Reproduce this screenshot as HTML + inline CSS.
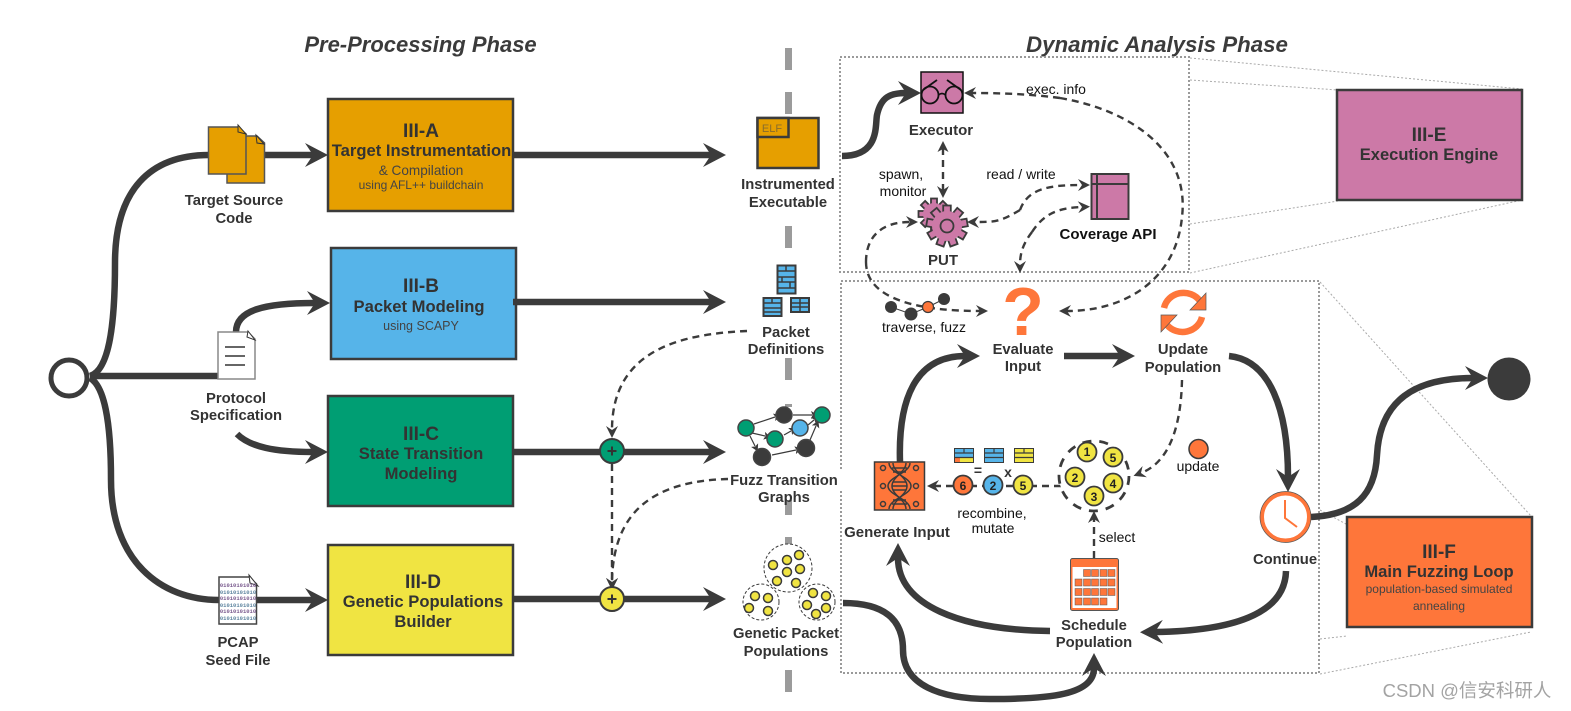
<!DOCTYPE html>
<html><head><meta charset="utf-8"><style>
html,body{margin:0;padding:0;background:#fff}
svg{display:block}
text{font-family:"Liberation Sans","Noto Sans CJK SC",sans-serif;text-anchor:middle}
.l{font-weight:bold;font-size:14.8px;fill:#333}
.h{font-weight:bold;font-size:19px;fill:#333}
.s{font-weight:bold;font-size:16.6px;fill:#333}
.n{font-size:14px;fill:#111}
.thick{fill:none;stroke:#3b3b3b;stroke-width:6.5}
.dash{fill:none;stroke:#3b3b3b;stroke-width:2.4;stroke-dasharray:7 5}
.dot{fill:none;stroke:#9a9a9a;stroke-width:2;stroke-dasharray:2 2}
.pl{fill:none;stroke:#aaa;stroke-width:1;stroke-dasharray:2 2}
.box{stroke:#3b3b3b;stroke-width:2.5}
</style></head><body>
<svg width="1571" height="711" viewBox="0 0 1571 711" xmlns="http://www.w3.org/2000/svg">
<defs>
<marker id="a" markerUnits="userSpaceOnUse" markerWidth="26" markerHeight="26" refX="8" refY="13" orient="auto" viewBox="0 0 26 26"><polygon points="0,1 23,13 0,25 8,13" fill="#3b3b3b"/></marker>
<marker id="d" markerUnits="userSpaceOnUse" markerWidth="14" markerHeight="14" refX="4" refY="7" orient="auto" viewBox="0 0 14 14"><polygon points="0,1 12,7 0,13 4,7" fill="#3b3b3b"/></marker>
<marker id="m" markerUnits="userSpaceOnUse" markerWidth="8" markerHeight="8" refX="1" refY="4" orient="auto" viewBox="0 0 8 8"><polygon points="0,0 7,4 0,8 1.5,4" fill="#3b3b3b"/></marker>
<rect id="tooth" x="-3.8" y="-20.500" width="7.6" height="8" fill="#cc79a7" stroke="#3b3b3b" stroke-width="1.8"/>
<rect id="tooth2" x="-3" y="-15.500" width="6" height="7" fill="#cc79a7" stroke="#3b3b3b" stroke-width="1.8"/>
</defs>

<text x="420.500" y="52" style="font-weight:bold;font-style:italic;font-size:22px;fill:#3b3b3b">Pre-Processing Phase</text>
<text x="1157" y="52" style="font-weight:bold;font-style:italic;font-size:22.300px;fill:#3b3b3b">Dynamic Analysis Phase</text>

<!-- center dashes -->
<g fill="#9b9b9b">
<rect x="785" y="48" width="7" height="22"/><rect x="785" y="92" width="7" height="22"/>
<rect x="785" y="226" width="7" height="22"/><rect x="785" y="358" width="7" height="22"/>
<rect x="785" y="404" width="7" height="3"/><rect x="785" y="500" width="7" height="15"/>
<rect x="785" y="537" width="7" height="8"/><rect x="785" y="670" width="7" height="22"/>
</g>

<!-- projection lines -->
<path class="pl" d="M1190,58 L1522,89 M1190,80 L1338,90 M1190,224 L1338,201 M1190,273 L1522,200 M1320,282 L1531,516 M1320,510 L1346,524 M1320,639 L1347,636 M1320,674 L1531,632"/>

<!-- dotted frames -->
<rect class="dot" x="840" y="57" width="349" height="215"/>
<rect class="dot" x="841" y="281" width="478" height="392"/>

<!-- start -->
<circle cx="69" cy="378" r="18" fill="#fff" stroke="#3b3b3b" stroke-width="5"/>
<path class="thick" d="M90,376 L218,376"/>
<path class="thick" d="M90,376 C110,370 115,320 115,263 C115,190 150,155 209,155"/>
<path class="thick" d="M90,378 C104,386 111,420 111,480 C111,560 160,600 219,600"/>
<path class="thick" d="M265,155 L313,155" marker-end="url(#a)"/>
<path class="thick" d="M236,332 C236,310 265,303 315,303" marker-end="url(#a)"/>
<path class="thick" d="M237,434 C250,447 275,452 313,452" marker-end="url(#a)"/>
<path class="thick" d="M256,600 L313,600" marker-end="url(#a)"/>

<!-- source docs -->
<path d="M227,136 H257 L264.500,143 V183 H227 Z" fill="#e69f00" stroke="#555" stroke-width="1.500"/>
<path d="M256,135 L264,144 L257,143 Z" fill="#e69f00" stroke="#333"/>
<path d="M208.500,127 H238 L246,134 V174 H208.500 Z" fill="#e69f00" stroke="#555" stroke-width="1.500"/>
<path d="M238,125 L246,134 L238,132 Z" fill="#e69f00" stroke="#333"/>
<text class="l" x="234" y="205">Target Source</text><text class="l" x="234" y="223">Code</text>

<!-- protocol doc -->
<path d="M218,332 H248 L255,339 V379 H218 Z" fill="#fff" stroke="#888" stroke-width="1.500"/>
<path d="M248,331 L255,340 L247,337 Z" fill="#fff" stroke="#333"/>
<path d="M225,347 H245 M225,356 H245 M225,365 H245" stroke="#333" stroke-width="1.500"/>
<text class="l" x="236" y="403">Protocol</text><text class="l" x="236" y="420">Specification</text>

<!-- pcap doc -->
<path d="M219,577 H249 L256.500,584 V624 H219 Z" fill="#fff" stroke="#444" stroke-width="1.500"/>
<path d="M249,575 L258,586 L250,583 Z" fill="#fff" stroke="#333"/>
<text x="238" y="587" style="font-size:5.500px;fill:#7a5a8e;font-weight:bold;font-family:'Liberation Mono',monospace">01010101010</text>
<text x="238" y="594" style="font-size:5.500px;fill:#5f86a0;font-weight:bold;font-family:'Liberation Mono',monospace">01010101010</text>
<text x="238" y="600" style="font-size:5.500px;fill:#7a5a8e;font-weight:bold;font-family:'Liberation Mono',monospace">01010101010</text>
<text x="238" y="607" style="font-size:5.500px;fill:#5f86a0;font-weight:bold;font-family:'Liberation Mono',monospace">01010101010</text>
<text x="238" y="613" style="font-size:5.500px;fill:#7a5a8e;font-weight:bold;font-family:'Liberation Mono',monospace">01010101010</text>
<text x="238" y="620" style="font-size:5.500px;fill:#5f86a0;font-weight:bold;font-family:'Liberation Mono',monospace">01010101010</text>
<text class="l" x="238" y="647">PCAP</text><text class="l" x="238" y="665">Seed File</text>

<!-- Boxes -->
<rect class="box" x="328" y="99" width="185" height="112" fill="#e69f00"/>
<text class="h" x="421" y="137">III-A</text>
<text class="s" x="421.500" y="156">Target Instrumentation</text>
<text x="421" y="175" style="font-size:13.600px;fill:#444">&amp; Compilation</text>
<text x="421" y="189" style="font-size:12px;fill:#444">using AFL++ buildchain</text>

<rect class="box" x="331" y="248" width="185" height="111" fill="#56b4e9"/>
<text class="h" x="421" y="292">III-B</text>
<text class="s" x="419" y="312">Packet Modeling</text>
<text x="421" y="330" style="font-size:12.500px;fill:#444">using SCAPY</text>

<rect class="box" x="328" y="396" width="185" height="110" fill="#009e73"/>
<text class="h" x="421" y="440">III-C</text>
<text class="s" x="421" y="459">State Transition</text>
<text class="s" x="421" y="479">Modeling</text>

<rect class="box" x="328" y="545" width="185" height="110" fill="#f0e442"/>
<text class="h" x="423" y="588">III-D</text>
<text class="s" x="423" y="607">Genetic Populations</text>
<text class="s" x="423" y="627">Builder</text>

<rect class="box" x="1337" y="90" width="185" height="110" fill="#cc79a7"/>
<text class="h" x="1429" y="141">III-E</text>
<text class="s" x="1429" y="160" style="font-size:16.500px">Execution Engine</text>

<rect class="box" x="1347" y="517" width="185" height="110" fill="#fe763a"/>
<text class="h" x="1439" y="558">III-F</text>
<text class="s" x="1439" y="577">Main Fuzzing Loop</text>
<text x="1439" y="593" style="font-size:12px;fill:#444">population-based simulated</text>
<text x="1439" y="610" style="font-size:12px;fill:#444">annealing</text>

<!-- box outputs -->
<path class="thick" d="M514,155 L711,155" marker-end="url(#a)"/>
<path class="thick" d="M513,302 L711,302" marker-end="url(#a)"/>
<path class="thick" d="M514,452 L711,452" marker-end="url(#a)"/>
<path class="thick" d="M514,599 L711,599" marker-end="url(#a)"/>

<!-- dashed left -->
<path class="dash" d="M747,331 C680,334 612,350 612,430" marker-end="url(#d)"/>
<path class="dash" d="M612,464 L612,582" marker-end="url(#d)"/>
<path class="dash" d="M728,479 C655,481 613,510 612,582" marker-end="url(#d)"/>
<circle cx="612" cy="451" r="12" fill="#009e73" stroke="#3b3b3b" stroke-width="2"/>
<path d="M607.500,451 H616.500 M612,446.500 V455.500" stroke="#333" stroke-width="2"/>
<circle cx="612" cy="599" r="12" fill="#f0e442" stroke="#3b3b3b" stroke-width="2"/>
<path d="M607.500,599 H616.500 M612,594.500 V603.500" stroke="#333" stroke-width="2"/>

<!-- ELF -->
<rect x="757.500" y="118" width="61" height="50" fill="#e69f00" stroke="#3b3b3b" stroke-width="2.500"/>
<rect x="757.500" y="118" width="31" height="19" fill="#e69f00" stroke="#3b3b3b" stroke-width="2.500"/>
<text x="772" y="132" style="font-size:11px;fill:#8a6d2b">ELF</text>
<text class="l" x="788" y="189">Instrumented</text><text class="l" x="788" y="207">Executable</text>

<!-- packet defs -->
<g stroke="#3b3b3b" stroke-width="2" fill="#56b4e9">
<rect x="777.500" y="265.500" width="18" height="28"/>
<rect x="763.500" y="298" width="18" height="18"/>
<rect x="791" y="298" width="18" height="14"/>
</g>
<path d="M778,271 H795 M778,277 H795 M778,282 H795 M778,288 H795 M786,265 V271 M782,277 V282 M790,282 V288 M764,303 H781 M764,308 H781 M764,312 H781 M772,298 V303 M791,303 H809 M791,307 H809 M800,298 V312" stroke="#3b3b3b" stroke-width="1.500" fill="none"/>
<text class="l" x="786" y="337">Packet</text><text class="l" x="786" y="354">Definitions</text>

<!-- graph -->
<g fill="none" stroke="#3b3b3b" stroke-width="1.200">
<path d="M754,424 L775,417" marker-end="url(#m)"/>
<path d="M793,415 L812,415" marker-end="url(#m)"/>
<path d="M752,433 L765,436" marker-end="url(#m)"/>
<path d="M784,435 L791,431" marker-end="url(#m)"/>
<path d="M808,425 L814,420" marker-end="url(#m)"/>
<path d="M750,436 L755,446" marker-end="url(#m)"/>
<path d="M772,455 L796,450" marker-end="url(#m)"/>
<path d="M810,440 L816,426" marker-end="url(#m)"/>
</g>
<g stroke="#444" stroke-width="1.500">
<circle cx="746" cy="428" r="8" fill="#009e73"/>
<circle cx="784" cy="415" r="8" fill="#3b3b3b"/>
<circle cx="822" cy="415" r="8" fill="#009e73"/>
<circle cx="800" cy="428" r="8" fill="#56b4e9"/>
<circle cx="775" cy="439" r="8" fill="#009e73"/>
<circle cx="762" cy="457" r="8.500" fill="#3b3b3b"/>
<circle cx="806" cy="448" r="8.500" fill="#3b3b3b"/>
</g>
<rect x="728" y="471" width="115" height="18" fill="#fff"/>
<text class="l" x="784" y="485">Fuzz Transition</text><text class="l" x="784" y="502">Graphs</text>

<!-- populations -->
<g fill="#fff" stroke="#3b3b3b" stroke-width="1" stroke-dasharray="3 2">
<circle cx="788" cy="568" r="24"/><circle cx="761" cy="602" r="18"/><circle cx="817" cy="602" r="18"/>
</g>
<g fill="#f0e442" stroke="#3b3b3b" stroke-width="1.500">
<circle cx="773" cy="565" r="4.500"/><circle cx="787" cy="560" r="4.500"/><circle cx="799" cy="555" r="4.500"/>
<circle cx="787" cy="572" r="4.500"/><circle cx="800" cy="569" r="4.500"/><circle cx="777" cy="581" r="4.500"/><circle cx="796" cy="583" r="4.500"/>
<circle cx="755" cy="596" r="4.500"/><circle cx="768" cy="598" r="4.500"/><circle cx="749" cy="608" r="4.500"/><circle cx="768" cy="611" r="4.500"/>
<circle cx="813" cy="593" r="4.500"/><circle cx="826" cy="596" r="4.500"/><circle cx="807" cy="605" r="4.500"/><circle cx="826" cy="608" r="4.500"/><circle cx="816" cy="614" r="4.500"/>
</g>
<text class="l" x="786" y="638">Genetic Packet</text><text class="l" x="786" y="656">Populations</text>

<!-- executable to executor -->
<path class="thick" d="M842,156 C880,156 875,125 877,115 C881,97 890,93 906,93" marker-end="url(#a)"/>

<!-- Executor -->
<rect x="921" y="72" width="42" height="41" fill="#cc79a7" stroke="#111" stroke-width="1.500"/>
<g fill="none" stroke="#111" stroke-width="1.800">
<circle cx="930" cy="95" r="8.500"/><circle cx="954" cy="95" r="8.500"/>
<path d="M938.500,95 Q942,92 945.500,95 M923,90 L937,80 M961,90 L947,80"/>
</g>
<text class="l" x="941" y="135" style="font-size:15px">Executor</text>

<path class="dash" d="M943,148 L943,190" marker-end="url(#d)"/>
<polygon points="943,141 937.500,152 943,149 948.500,152" fill="#3b3b3b"/>

<!-- gears -->
<g transform="translate(934,214)">
<use href="#tooth2"/><use href="#tooth2" transform="rotate(45)"/><use href="#tooth2" transform="rotate(90)"/><use href="#tooth2" transform="rotate(135)"/><use href="#tooth2" transform="rotate(180)"/><use href="#tooth2" transform="rotate(225)"/><use href="#tooth2" transform="rotate(270)"/><use href="#tooth2" transform="rotate(315)"/>
<circle r="11" fill="#cc79a7"/>
</g>
<g transform="translate(947,226)">
<use href="#tooth"/><use href="#tooth" transform="rotate(40)"/><use href="#tooth" transform="rotate(80)"/><use href="#tooth" transform="rotate(120)"/><use href="#tooth" transform="rotate(160)"/><use href="#tooth" transform="rotate(200)"/><use href="#tooth" transform="rotate(240)"/><use href="#tooth" transform="rotate(280)"/><use href="#tooth" transform="rotate(320)"/>
<circle r="15" fill="#cc79a7" stroke="#3b3b3b" stroke-width="0"/>
<circle r="6.500" fill="#cc79a7" stroke="#3b3b3b" stroke-width="1.800"/>
</g>
<text class="l" x="943" y="265" style="font-size:15px">PUT</text>

<text class="n" x="901" y="179">spawn,</text><text class="n" x="903" y="196">monitor</text>
<text class="n" x="1021" y="179">read / write</text>
<text class="n" x="1056" y="94">exec. info</text>

<!-- coverage -->
<rect x="1091.500" y="174" width="37" height="45" fill="#cc79a7" stroke="#3b3b3b" stroke-width="2"/>
<path d="M1092,184 H1128 M1097,174 V219" stroke="#3b3b3b" stroke-width="2"/>
<text x="1108" y="239" style="font-weight:bold;font-size:15px;fill:#111">Coverage API</text>

<!-- dashed top -->
<path class="dash" d="M1060,98 C1130,110 1190,150 1182,217 C1176,280 1125,311 1067,311" marker-end="url(#d)"/>
<path class="dash" d="M1060,98 C1030,94 1000,93 972,93" marker-end="url(#d)"/>
<path class="dash" d="M1020,210 C1000,222 995,222 975,222" marker-end="url(#d)"/>
<path class="dash" d="M1020,210 C1028,188 1050,185 1082,185" marker-end="url(#d)"/>
<path class="dash" d="M1032,232 C1045,212 1060,208 1082,207" marker-end="url(#d)"/>
<path class="dash" d="M1032,232 C1022,245 1020,255 1020,265" marker-end="url(#d)"/>
<path class="dash" d="M866,262 C866,238 880,222 910,222" marker-end="url(#d)"/>
<path class="dash" d="M866,262 C866,300 920,311 980,311" marker-end="url(#d)"/>

<!-- traverse -->
<path d="M891,307 L911,314 L928,307 L944,299" stroke="#3b3b3b" stroke-width="1" fill="none"/>
<circle cx="891" cy="307" r="6" fill="#3b3b3b"/>
<circle cx="911" cy="314" r="6.500" fill="#3b3b3b"/>
<circle cx="928" cy="307" r="5.500" fill="#fe763a" stroke="#3b3b3b" stroke-width="1.200"/>
<circle cx="944" cy="299" r="6" fill="#3b3b3b"/>
<text class="n" x="924" y="332">traverse, fuzz</text>

<!-- question -->
<text x="1023" y="335" style="font-weight:bold;font-size:68px;fill:#fe763a">?</text>
<text class="l" x="1023" y="354">Evaluate</text><text class="l" x="1023" y="371">Input</text>
<path class="thick" d="M900,462 C898,400 915,356 965,356" marker-end="url(#a)"/>
<path class="thick" d="M1064,356 L1120,356" marker-end="url(#a)"/>

<!-- cycle -->
<g fill="none" stroke="#fe763a" stroke-width="6.500">
<path d="M1164,308 A20,19 0 0 1 1200,301"/>
<path d="M1202,317 A20,19 0 0 1 1167,325"/>
</g>
<polygon points="1206,293 1206,310 1190,310" fill="#fe763a" stroke="#555" stroke-width=".7"/>
<polygon points="1161,315 1161,332 1177,315" fill="#fe763a" stroke="#555" stroke-width=".7"/>
<text class="l" x="1183" y="354">Update</text><text class="l" x="1183" y="372">Population</text>

<path class="thick" d="M1229,356 C1270,360 1288,410 1288,477" marker-end="url(#a)"/>

<!-- clock -->
<circle cx="1285.500" cy="517" r="23.500" fill="#fff" stroke="#fe763a" stroke-width="4"/>
<circle cx="1285.500" cy="517" r="25.500" fill="none" stroke="#555" stroke-width=".7"/>
<path d="M1285,500 V518 L1297,527" fill="none" stroke="#fe763a" stroke-width="2"/>
<text class="l" x="1285" y="564">Continue</text>
<path class="thick" d="M1286,571 C1285,615 1230,631 1155,632" marker-end="url(#a)"/>
<text class="l" x="1094" y="630">Schedule</text><text class="l" x="1094" y="647">Population</text>
<path class="thick" d="M1050,631 C960,630 898,605 898,558" marker-end="url(#a)"/>

<!-- exit -->
<path class="thick" d="M1311,517 C1355,515 1375,495 1377,455 C1380,400 1415,378 1473,378" marker-end="url(#a)"/>
<circle cx="1509" cy="379" r="21.500" fill="#3b3b3b"/>

<!-- populations to schedule -->
<path class="thick" d="M843,603 C885,603 903,620 903,650 C903,685 940,699 990,699 C1050,699 1094,695 1094,668" marker-end="url(#a)"/>

<!-- DNA -->
<rect x="874.500" y="462" width="50" height="48" fill="#fe763a" stroke="#3b3b3b" stroke-width="1.500"/>
<g fill="none" stroke="#3b3b3b" stroke-width="1.500">
<path d="M889,463 C889,473 911,477 911,486 C911,495 889,499 889,509"/>
<path d="M893,463 C893,472 907,477 907,486 C907,495 893,500 893,509"/>
<path d="M910,463 C910,473 888,477 888,486 C888,495 910,499 910,509"/>
<path d="M906,463 C906,472 892,477 892,486 C892,495 906,500 906,509"/>
<path d="M892,468 H907 M893,472 H906 M893,482 H906 M892,486 H907 M893,490 H906 M893,500 H906 M892,504 H907"/>
<circle cx="883" cy="468" r="2.500"/><circle cx="916" cy="468" r="2.500"/>
<circle cx="883" cy="486" r="2.500"/><circle cx="916" cy="486" r="2.500"/>
<circle cx="883" cy="504" r="2.500"/><circle cx="916" cy="504" r="2.500"/>
</g>
<text class="l" x="897" y="537" style="font-size:15px">Generate Input</text>

<!-- recombine -->
<path class="dash" d="M1061,486 L935,486" marker-end="url(#d)"/>
<g stroke="#3b3b3b" stroke-width="1.800">
<circle cx="963" cy="485" r="9.500" fill="#fe763a"/>
<circle cx="993" cy="485" r="9.500" fill="#56b4e9"/>
<circle cx="1023" cy="485" r="9.500" fill="#f0e442"/>
</g>
<text x="963" y="490" style="font-weight:bold;font-size:12px;fill:#222">6</text>
<text x="993" y="490" style="font-weight:bold;font-size:12px;fill:#222">2</text>
<text x="1023" y="490" style="font-weight:bold;font-size:12px;fill:#222">5</text>
<text x="978" y="475" style="font-weight:bold;font-size:14px;fill:#333">=</text>
<text x="1008" y="477" style="font-weight:bold;font-size:14px;fill:#333">x</text>
<!-- tiny tables -->
<g stroke="#3b3b3b" stroke-width="1">
<rect x="954.500" y="448.500" width="19" height="14" fill="#56b4e9"/><rect x="955" y="457" width="5" height="5" fill="#fe763a" stroke="none"/><rect x="960" y="457" width="13" height="5" fill="#f0e442" stroke="none"/>
<rect x="984.500" y="448.500" width="19" height="14" fill="#56b4e9"/>
<rect x="1014.500" y="448.500" width="19" height="14" fill="#f0e442"/>
</g>
<path d="M955,453 H973 M955,457.500 H973 M964,449 V453 M985,453 H1003 M985,457.500 H1003 M994,449 V453 M1015,453 H1033 M1015,457.500 H1033 M1024,449 V453" stroke="#3b3b3b" stroke-width="1.200"/>
<text class="n" x="992" y="518">recombine,</text><text class="n" x="993" y="533">mutate</text>

<!-- cluster -->
<circle cx="1094" cy="476" r="35" fill="#fff" stroke="#3b3b3b" stroke-width="2.800" stroke-dasharray="9 8"/>
<g fill="#f0e442" stroke="#3b3b3b" stroke-width="1.800">
<circle cx="1087" cy="452" r="9.500"/><circle cx="1113" cy="457" r="9.500"/><circle cx="1075" cy="477" r="9.500"/><circle cx="1113" cy="483" r="9.500"/><circle cx="1094" cy="496" r="9.500"/>
</g>
<text x="1087" y="456" style="font-weight:bold;font-size:12px;fill:#222">1</text>
<text x="1113" y="462" style="font-weight:bold;font-size:12px;fill:#222">5</text>
<text x="1075" y="482" style="font-weight:bold;font-size:12px;fill:#222">2</text>
<text x="1113" y="488" style="font-weight:bold;font-size:12px;fill:#222">4</text>
<text x="1094" y="501" style="font-weight:bold;font-size:12px;fill:#222">3</text>

<!-- update dashed -->
<path class="dash" d="M1182,380 C1181,425 1170,462 1141,473" marker-end="url(#d)"/>
<circle cx="1198.500" cy="449" r="9.500" fill="#fe763a" stroke="#3b3b3b" stroke-width="1.500"/>
<text class="n" x="1198" y="471">update</text>

<!-- select -->
<path class="dash" d="M1094,558 L1094,519" marker-end="url(#d)"/>
<text class="n" x="1117" y="542">select</text>

<!-- calendar -->
<rect x="1070.500" y="558.500" width="48" height="52" rx="2" fill="#fe763a" stroke="#555" stroke-width="1"/>
<rect x="1072.500" y="567" width="44" height="41" fill="#fff"/>
<g fill="#fe763a" stroke="#555" stroke-width=".5">
<rect x="1083.500" y="569.500" width="7" height="7"/><rect x="1091.500" y="569.500" width="7" height="7"/><rect x="1100" y="569.500" width="7" height="7"/><rect x="1108" y="569.500" width="7" height="7"/>
<rect x="1075" y="579" width="7" height="7"/><rect x="1083.500" y="579" width="7" height="7"/><rect x="1091.500" y="579" width="7" height="7"/><rect x="1100" y="579" width="7" height="7"/><rect x="1108" y="579" width="7" height="7"/>
<rect x="1075" y="588.500" width="7" height="7"/><rect x="1083.500" y="588.500" width="7" height="7"/><rect x="1091.500" y="588.500" width="7" height="7"/><rect x="1100" y="588.500" width="7" height="7"/><rect x="1108" y="588.500" width="7" height="7"/>
<rect x="1075" y="598" width="7" height="7"/><rect x="1083.500" y="598" width="7" height="7"/><rect x="1091.500" y="598" width="7" height="7"/><rect x="1100" y="598" width="7" height="7"/>
</g>

<!-- watermark -->
<text x="1467" y="697" style="font-size:18.500px;fill:#a3a3a3">CSDN @信安科研人</text>
</svg>
</body></html>
